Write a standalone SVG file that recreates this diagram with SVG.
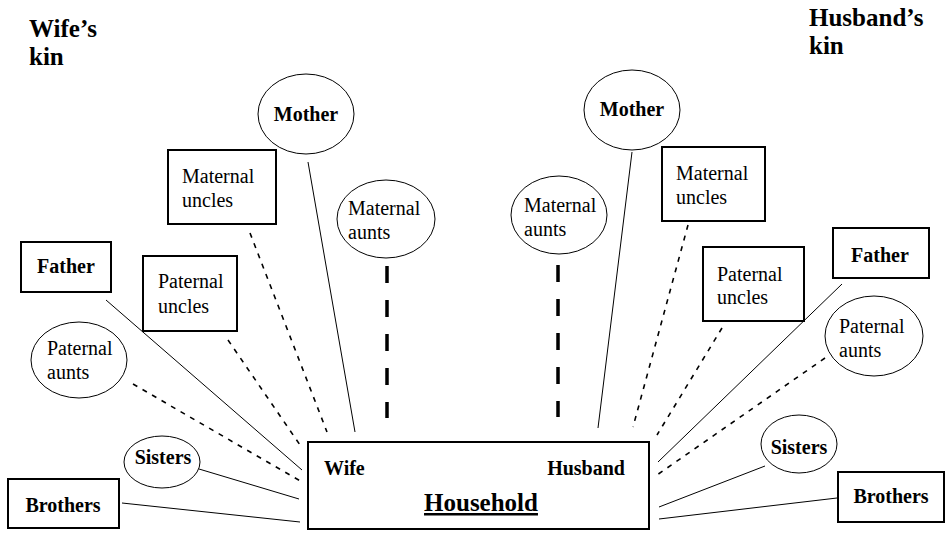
<svg xmlns="http://www.w3.org/2000/svg" width="950" height="534" viewBox="0 0 950 534">
<style>
text{font-family:"Liberation Serif","DejaVu Serif",serif;fill:#000}
.h{font-size:25px;font-weight:bold}
.b{font-size:20px;font-weight:bold}
.r{font-size:20px}
.c{text-anchor:middle}
.box{fill:#fff;stroke:#000;stroke-width:2}
.ell{fill:#fff;stroke:#000;stroke-width:1}
.solid{stroke:#000;stroke-width:1;fill:none}
.dash{stroke:#000;stroke-width:1.6;fill:none;stroke-dasharray:5 6}
.thick{stroke:#000;stroke-width:3.5;fill:none;stroke-dasharray:17 17}
</style>
<g id="titles">
<text class="h" x="29" y="37">Wife’s</text>
<text class="h" x="29" y="65">kin</text>
<text class="h" x="809" y="26">Husband’s</text>
<text class="h" x="809" y="54">kin</text>
</g>
<g id="connectors">
<line class="solid" x1="308" y1="162" x2="355" y2="432"/>
<line class="dash" x1="250" y1="233" x2="327" y2="432"/>
<line class="thick" x1="387" y1="266" x2="387" y2="418"/>
<line class="solid" x1="106" y1="300" x2="302" y2="470"/>
<line class="dash" x1="228" y1="340" x2="300" y2="445"/>
<line class="dash" x1="133" y1="384" x2="302" y2="482"/>
<line class="solid" x1="199" y1="469" x2="299" y2="499"/>
<line class="solid" x1="122" y1="503" x2="300" y2="522"/>
<line class="solid" x1="632" y1="152" x2="598" y2="428"/>
<line class="thick" x1="558" y1="265" x2="558" y2="417"/>
<line class="dash" x1="688" y1="225" x2="633" y2="427"/>
<line class="dash" x1="722" y1="328" x2="657" y2="435"/>
<line class="solid" x1="842" y1="284" x2="658" y2="462"/>
<line class="dash" x1="825" y1="358" x2="657" y2="475"/>
<line class="solid" x1="765" y1="466" x2="659" y2="507"/>
<line class="solid" x1="837" y1="498" x2="659" y2="519"/>
</g>
<g id="wife-mother">
<ellipse class="ell" cx="306" cy="114" rx="48" ry="40"/>
<text class="b c" x="306" y="121">Mother</text>
</g>
<g id="wife-maternal-uncles">
<rect class="box" x="168" y="150" width="108" height="74"/>
<text class="r" x="182" y="183">Maternal</text>
<text class="r" x="182" y="207">uncles</text>
</g>
<g id="wife-maternal-aunts">
<ellipse class="ell" cx="386" cy="219" rx="49" ry="39"/>
<text class="r" x="348" y="215">Maternal</text>
<text class="r" x="348" y="239">aunts</text>
</g>
<g id="wife-father">
<rect class="box" x="21" y="242" width="90" height="50"/>
<text class="b c" x="66" y="273">Father</text>
</g>
<g id="wife-paternal-uncles">
<rect class="box" x="143" y="256" width="94" height="75"/>
<text class="r" x="158" y="288">Paternal</text>
<text class="r" x="158" y="313">uncles</text>
</g>
<g id="wife-paternal-aunts">
<ellipse class="ell" cx="79" cy="360" rx="48" ry="38"/>
<text class="r" x="47" y="355">Paternal</text>
<text class="r" x="47" y="379">aunts</text>
</g>
<g id="wife-sisters">
<ellipse class="ell" cx="162" cy="462" rx="38" ry="26"/>
<text class="b c" x="163" y="464">Sisters</text>
</g>
<g id="wife-brothers">
<rect class="box" x="8" y="479" width="111" height="49"/>
<text class="b c" x="63" y="512">Brothers</text>
</g>
<g id="household">
<rect class="box" x="308" y="442" width="341" height="87"/>
<text class="b" x="324" y="475">Wife</text>
<text class="b" x="625" y="475" text-anchor="end">Husband</text>
<text class="h c" x="481" y="511" text-decoration="underline">Household</text>
</g>
<g id="husband-mother">
<ellipse class="ell" cx="632" cy="110" rx="48" ry="40"/>
<text class="b c" x="632" y="116">Mother</text>
</g>
<g id="husband-maternal-aunts">
<ellipse class="ell" cx="559" cy="215" rx="48" ry="39"/>
<text class="r" x="524" y="212">Maternal</text>
<text class="r" x="524" y="236">aunts</text>
</g>
<g id="husband-maternal-uncles">
<rect class="box" x="662" y="147" width="103" height="74"/>
<text class="r" x="676" y="180">Maternal</text>
<text class="r" x="676" y="204">uncles</text>
</g>
<g id="husband-paternal-uncles">
<rect class="box" x="703" y="247" width="101" height="74"/>
<text class="r" x="717" y="281">Paternal</text>
<text class="r" x="717" y="304">uncles</text>
</g>
<g id="husband-father">
<rect class="box" x="833" y="228" width="96" height="50"/>
<text class="b c" x="880" y="262">Father</text>
</g>
<g id="husband-paternal-aunts">
<ellipse class="ell" cx="874" cy="336" rx="49" ry="40"/>
<text class="r" x="839" y="333">Paternal</text>
<text class="r" x="839" y="357">aunts</text>
</g>
<g id="husband-sisters">
<ellipse class="ell" cx="799" cy="444" rx="38" ry="29"/>
<text class="b c" x="799" y="454">Sisters</text>
</g>
<g id="husband-brothers">
<rect class="box" x="838" y="472" width="106" height="50"/>
<text class="b c" x="891" y="503">Brothers</text>
</g>
</svg>
